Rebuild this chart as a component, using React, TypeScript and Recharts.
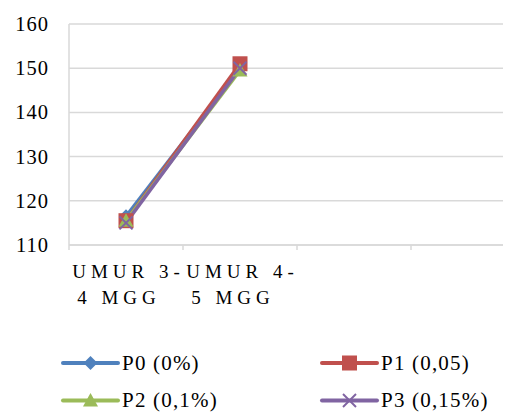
import React from 'react';
import { LineChart, Line, XAxis, YAxis, CartesianGrid } from 'recharts';

const categories = ['UMUR 3-4 MGG', 'UMUR 4-5 MGG'];
const labelLines = [
  ['UMUR 3-', '4 MGG'],
  ['UMUR 4-', '5 MGG'],
];
const p0 = [116.5, 150];
const p1 = [115.5, 151];
const p2 = [115.5, 149.5];
const p3 = [115, 150];
const yTicks = [110, 120, 130, 140, 150, 160];
const seriesNames = ['P0 (0%)', 'P1 (0,05)', 'P2 (0,1%)', 'P3 (0,15%)'];
const seriesKeys = ['p0', 'p1', 'p2', 'p3'];
const colors = ['#4F81BD', '#C0504D', '#9BBB59', '#8064A2'];
const markers = ['diamond', 'square', 'triangle', 'cross'];
const categoryCount = 4;

const data = categories.map((c, i) => ({
  x: i + 0.5,
  name: c,
  p0: p0[i],
  p1: p1[i],
  p2: p2[i],
  p3: p3[i],
}));

const xTicks: number[] = [];
for (let i = 0; i <= categoryCount; i++) {
  xTicks.push(i);
  if (i < categories.length) xTicks.push(i + 0.5);
}

const FONT = '"Liberation Serif", serif';
const GRID = '#D9D9D9';

function Marker({ kind, cx, cy, color }: { kind: string; cx: number; cy: number; color: string }) {
  if (kind === 'diamond') {
    const s = 7;
    return <polygon points={`${cx},${cy - s} ${cx + s},${cy} ${cx},${cy + s} ${cx - s},${cy}`} fill={color} />;
  }
  if (kind === 'square') {
    const s = 7.5;
    return <rect x={cx - s} y={cy - s} width={2 * s} height={2 * s} fill={color} />;
  }
  if (kind === 'triangle') {
    const s = 7.5;
    return <polygon points={`${cx},${cy - s} ${cx + s},${cy + s * 0.8} ${cx - s},${cy + s * 0.8}`} fill={color} />;
  }
  const s = 6.5;
  return (
    <g stroke={color} strokeWidth={2}>
      <line x1={cx - s} y1={cy - s} x2={cx + s} y2={cy + s} />
      <line x1={cx - s} y1={cy + s} x2={cx + s} y2={cy - s} />
    </g>
  );
}

const makeDot = (idx: number) => (props: any) => {
  const { cx, cy, key } = props;
  if (cx == null || cy == null) return <g key={key} />;
  return (
    <g key={key}>
      <Marker kind={markers[idx]} cx={cx} cy={cy} color={colors[idx]} />
    </g>
  );
};

const XTick = (props: any) => {
  const { x, y, payload } = props;
  const v = payload.value as number;
  if (Number.isInteger(v)) {
    return <line x1={x} y1={y} x2={x} y2={y + 5} stroke={GRID} strokeWidth={1.5} />;
  }
  const idx = Math.floor(v);
  const lines = labelLines[idx] || [];
  return (
    <g>
      {lines.map((t, i) => (
        <text
          key={i}
          x={x + (i === 0 ? 2.5 : -7)}
          y={y + 33 + i * 26}
          textAnchor="middle"
          fill="#000"
          fontFamily={FONT}
          style={{ letterSpacing: '5px', fontFamily: FONT, fontSize: 19 }}
        >
          {t}
        </text>
      ))}
    </g>
  );
};

const YTick = (props: any) => {
  const { x, y, payload } = props;
  return (
    <text
      x={x + 1}
      y={y}
      dy={7}
      textAnchor="end"
      fill="#000"
      fontFamily={FONT}
      style={{ fontFamily: FONT, fontSize: 20.5, letterSpacing: '1px' }}
    >
      {payload.value}
    </text>
  );
};

const legendPos = [
  { x: 55, y: 355 },
  { x: 314, y: 355 },
  { x: 55, y: 392.5 },
  { x: 314, y: 392.5 },
];

export default function App() {
  return (
    <div style={{ width: 503, height: 404, overflow: 'hidden', position: 'relative', fontFamily: FONT }}>
      <LineChart
        width={530}
        height={404}
        data={data}
        margin={{ top: 16, right: 13, left: 0, bottom: 0 }}
      >
        <CartesianGrid horizontal vertical={false} stroke={GRID} strokeWidth={1.5} />
        <XAxis
          dataKey="x"
          type="number"
          domain={[0, categoryCount]}
          ticks={xTicks}
          interval={0}
          height={167}
          axisLine={{ stroke: GRID, strokeWidth: 1.5 }}
          tickLine={false}
          tickSize={0}
          tickMargin={0}
          tick={<XTick />}
        />
        <YAxis
          domain={[110, 160]}
          ticks={yTicks}
          width={61}
          axisLine={{ stroke: GRID, strokeWidth: 1.5 }}
          tickLine={false}
          tickSize={0}
          tickMargin={21}
          tick={<YTick />}
        />
        {seriesKeys.map((k, i) => (
          <Line
            key={k}
            dataKey={k}
            stroke={colors[i]}
            strokeWidth={3.5}
            dot={makeDot(i)}
            activeDot={false}
            isAnimationActive={false}
          />
        ))}
      </LineChart>
      <svg width={503} height={404} style={{ position: 'absolute', left: 0, top: 0, pointerEvents: 'none' }}>
        {seriesNames.map((n, i) => {
          const p = legendPos[i];
          return (
            <g key={n}>
              <line x1={p.x} y1={p.y} x2={p.x + 55} y2={p.y} stroke={colors[i]} strokeWidth={4} strokeLinecap="round" />
              <Marker kind={markers[i]} cx={p.x + 27.5} cy={p.y} color={colors[i]} />
              <text
                x={p.x + 59}
                y={p.y + 6.5}
                fill="#000"
                fontFamily={FONT}
                style={{ fontFamily: FONT, fontSize: 21, letterSpacing: '1.2px' }}
              >
                {n}
              </text>
            </g>
          );
        })}
      </svg>
    </div>
  );
}
